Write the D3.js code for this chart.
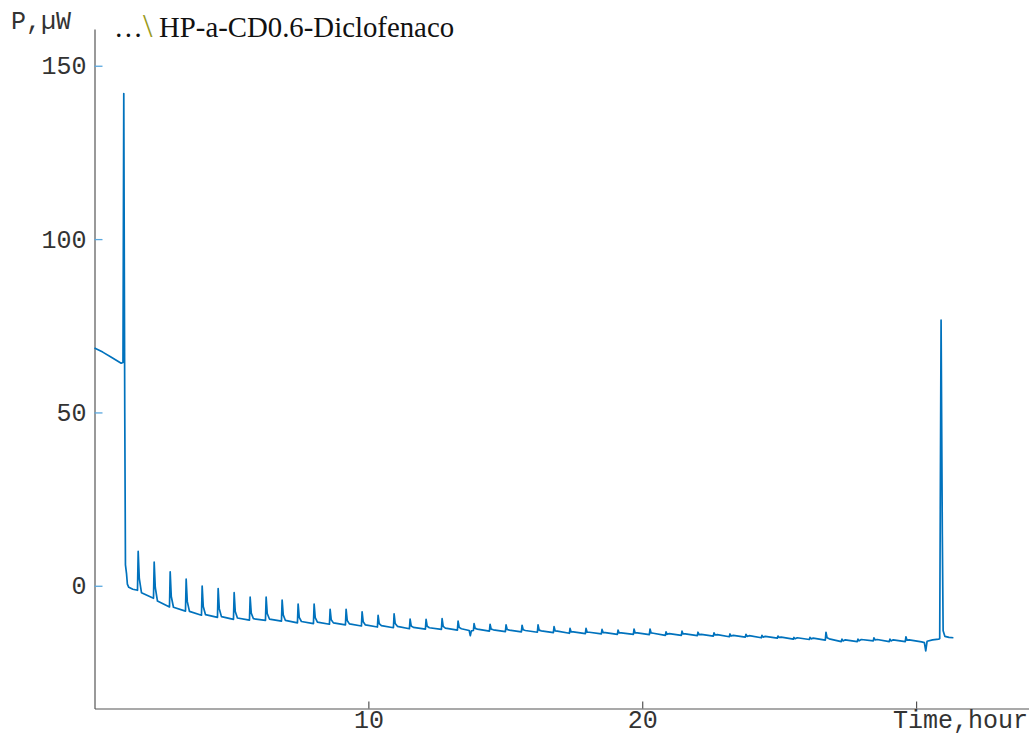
<!DOCTYPE html>
<html>
<head>
<meta charset="utf-8">
<script src="https://cdn.jsdelivr.net/npm/d3@7/dist/d3.min.js"></script>
<style>
  html, body { margin: 0; padding: 0; background: #fff; }
  svg { display: block; }
</style>
</head>
<body>
<svg id="chart" width="1029" height="735"></svg>
<script>
// ---------------- DATA ----------------
const titlePrefix = "…";
const titleSep = "\\";
const titleMain = "HP-a-CD0.6-Diclofenaco";
const yAxisLabel = "P,µW";
const xAxisLabel = "Time,hour";

const xTickValues = [10, 20, 30];
const xTickLabels = ["10", "20", ""];
const yTickValues = [0, 50, 100, 150];
const yTickLabels = ["0", "50", "100", "150"];

const xDomain = [0, 34.12];
const yDomain = [-35.4, 160.6];

// [time (hour), power (µW)]
const preInjectionTrace = [
  [0, 68.6], [0.3, 67.4], [0.6, 66.0], [0.974, 64.2], [1.04, 64.4],
  [1.069, 142], [1.105, 50], [1.13, 6], [1.168, 3.6], [1.2, 0.5],
  [1.252, -0.45], [1.4, -1.0], [1.57, -1.3]
];

const injectionTrace = [
  [1.595, 9.9], [1.635, 2.1], [1.715, -2.0],
  [2.154, -3.6], [2.179, 6.8], [2.219, -0.5], [2.299, -4.4],
  [2.738, -6.1], [2.763, 4.0], [2.803, -3.1], [2.883, -6.2],
  [3.322, -7.3], [3.347, 1.9], [3.387, -4.5], [3.467, -7.4],
  [3.906, -8.5], [3.931, -0.1], [3.971, -6.0], [4.051, -8.3],
  [4.490, -9.1], [4.515, -0.8], [4.555, -6.6], [4.635, -8.9],
  [5.074, -9.7], [5.099, -2.0], [5.139, -7.4], [5.219, -9.3],
  [5.658, -9.9], [5.683, -3.3], [5.723, -7.9], [5.803, -9.5],
  [6.242, -10.0], [6.267, -3.3], [6.307, -8.0], [6.387, -9.6],
  [6.826, -10.2], [6.851, -4.1], [6.891, -8.4], [6.971, -10.0],
  [7.410, -10.7], [7.435, -5.3], [7.475, -9.1], [7.555, -10.3],
  [7.994, -10.9], [8.019, -5.3], [8.059, -9.2], [8.139, -10.5],
  [8.578, -11.1], [8.603, -6.8], [8.643, -9.8], [8.723, -10.7],
  [9.162, -11.3], [9.187, -6.8], [9.227, -10.0], [9.307, -11.0],
  [9.746, -11.6], [9.771, -7.5], [9.811, -10.4], [9.891, -11.3],
  [10.330, -11.9], [10.355, -8.5], [10.395, -10.9], [10.475, -11.5],
  [10.914, -12.1], [10.939, -8.1], [10.979, -10.9], [11.059, -11.7],
  [11.498, -12.4], [11.523, -9.6], [11.563, -11.6], [11.643, -12.0],
  [12.082, -12.5], [12.107, -9.7], [12.147, -11.7], [12.227, -12.1],
  [12.666, -12.6], [12.691, -9.5], [12.731, -11.7], [12.811, -12.2],
  [13.250, -12.8], [13.275, -10.2], [13.315, -12.0], [13.395, -12.4],
  [13.68, -12.9], [13.72, -14.4], [13.76, -13.0],
  [13.834, -12.9], [13.859, -10.9], [13.899, -12.3], [13.979, -12.5],
  [14.418, -13.1], [14.443, -11.1], [14.483, -12.5], [14.563, -12.7],
  [15.002, -13.2], [15.027, -11.3], [15.067, -12.6], [15.147, -12.8],
  [15.586, -13.3], [15.611, -11.4], [15.651, -12.7], [15.731, -12.9],
  [16.170, -13.4], [16.195, -11.3], [16.235, -12.8], [16.315, -13.0],
  [16.754, -13.5], [16.779, -11.8], [16.819, -13.0], [16.899, -13.1],
  [17.338, -13.7], [17.363, -12.3], [17.403, -13.3], [17.483, -13.3],
  [17.922, -13.8], [17.947, -12.3], [17.987, -13.4], [18.067, -13.4],
  [18.506, -13.9], [18.531, -12.6], [18.571, -13.5], [18.651, -13.5],
  [19.090, -14.0], [19.115, -12.8], [19.155, -13.6], [19.235, -13.6],
  [19.674, -14.0], [19.699, -12.5], [19.739, -13.6], [19.819, -13.6],
  [20.258, -14.1], [20.283, -12.5], [20.323, -13.6], [20.403, -13.7],
  [20.842, -14.3], [20.867, -13.3], [20.907, -14.0], [20.987, -13.8],
  [21.426, -14.3], [21.451, -13.1], [21.491, -13.9], [21.571, -13.9],
  [22.010, -14.4], [22.035, -13.4], [22.075, -14.1], [22.155, -14.0],
  [22.594, -14.5], [22.619, -13.6], [22.659, -14.2], [22.739, -14.1],
  [23.178, -14.7], [23.203, -13.9], [23.243, -14.5], [23.323, -14.3],
  [23.762, -14.8], [23.787, -14.0], [23.827, -14.6], [23.907, -14.4],
  [24.346, -15.0], [24.371, -14.3], [24.411, -14.8], [24.491, -14.6],
  [24.930, -15.1], [24.955, -14.5], [24.995, -14.9], [25.075, -14.8],
  [25.514, -15.4], [25.539, -14.9], [25.579, -15.3], [25.659, -15.0],
  [26.098, -15.5], [26.123, -14.9], [26.163, -15.3], [26.243, -15.1],
  [26.682, -15.7], [26.707, -13.4], [26.747, -15.0], [26.827, -15.3],
  [27.266, -16.1], [27.291, -15.4], [27.331, -15.9], [27.411, -15.6],
  [27.850, -16.1], [27.875, -15.4], [27.915, -15.9], [27.995, -15.5],
  [28.434, -15.9], [28.459, -15.0], [28.499, -15.6], [28.579, -15.5],
  [29.018, -16.1], [29.043, -15.4], [29.083, -15.9], [29.163, -15.6],
  [29.602, -16.1], [29.627, -14.7], [29.667, -15.7], [29.747, -15.6]
];

const finalTrace = [
  [30.2, -16.2], [30.30, -16.4], [30.35, -18.8], [30.40, -16.0],
  [30.6, -15.6], [30.82, -15.4], [30.86, -15.2], [30.91, 76.6],
  [30.955, 15], [30.985, -13.0], [31.05, -14.6], [31.2, -14.9], [31.36, -15.0]
];

// ---------------- LAYOUT ----------------
const svg = d3.select("#chart");
const plot = { left: 94.5, right: 1029, top: 29, bottom: 708.5 };

const x = d3.scaleLinear().domain(xDomain).range([plot.left, plot.right]);
const y = d3.scaleLinear().domain(yDomain).range([plot.bottom, plot.top]);

const monoFont = "'Liberation Mono', 'Courier New', monospace";
const serifFont = "'Liberation Serif', 'Times New Roman', serif";
const textColor = "#333";

// Y axis
const yAxis = d3.axisLeft(y)
  .tickValues(yTickValues)
  .tickFormat((d, i) => yTickLabels[i])
  .tickSizeInner(-8)
  .tickSizeOuter(0)
  .tickPadding(8);

const gy = svg.append("g")
  .attr("transform", `translate(${plot.left},0)`)
  .call(yAxis);
gy.select(".domain").attr("stroke", "#555").attr("stroke-width", 1.2);
gy.selectAll(".tick line").attr("stroke", "#5aa8df").attr("stroke-width", 1.3);
gy.selectAll(".tick text")
  .attr("font-family", monoFont)
  .attr("font-size", 25)
  .attr("fill", textColor);

// X axis
const xAxis = d3.axisBottom(x)
  .tickValues(xTickValues)
  .tickFormat((d, i) => xTickLabels[i])
  .tickSizeInner(-7)
  .tickSizeOuter(0)
  .tickPadding(2);

const gx = svg.append("g")
  .attr("transform", `translate(0,${plot.bottom})`)
  .call(xAxis);
gx.select(".domain").attr("stroke", "#555").attr("stroke-width", 1.2);
gx.selectAll(".tick line").attr("stroke", "#333").attr("stroke-width", 1);
gx.selectAll(".tick text")
  .attr("font-family", monoFont)
  .attr("font-size", 25)
  .attr("fill", textColor);

// Axis labels
svg.append("text")
  .attr("x", 11).attr("y", 29)
  .attr("font-family", monoFont).attr("font-size", 25).attr("fill", textColor)
  .text(yAxisLabel);

svg.append("text")
  .attr("x", 1028).attr("y", 728)
  .attr("text-anchor", "end")
  .attr("font-family", monoFont).attr("font-size", 25).attr("fill", textColor)
  .text(xAxisLabel);

// Title
const title = svg.append("text")
  .attr("y", 37)
  .attr("font-family", serifFont).attr("font-size", 28.8).attr("fill", "#111");
title.append("tspan").attr("x", 114).text(titlePrefix);
title.append("tspan").attr("x", 143).attr("font-size", 34).attr("fill", "#9a9a1c").text(titleSep);
title.append("tspan").attr("x", 159).text(titleMain);

// Trace
const trace = preInjectionTrace.concat(injectionTrace, finalTrace);
const line = d3.line().x(d => x(d[0])).y(d => y(d[1]));

svg.append("path")
  .datum(trace)
  .attr("fill", "none")
  .attr("stroke", "#0072BD")
  .attr("stroke-width", 1.7)
  .attr("stroke-linejoin", "round")
  .attr("d", line);
</script>
</body>
</html>
